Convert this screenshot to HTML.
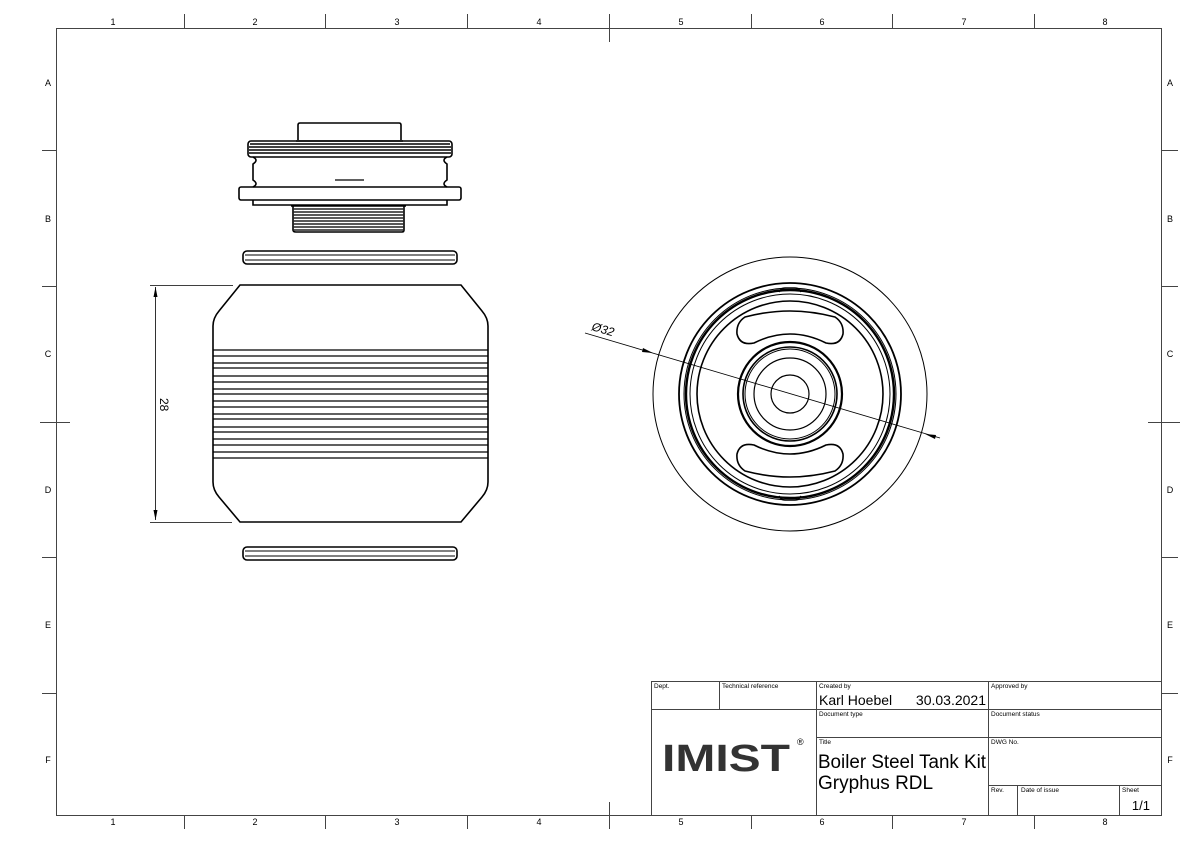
<!DOCTYPE html>
<html><head><meta charset="utf-8"><style>
html,body{margin:0;padding:0;background:#fff}
svg{display:block}
text{font-family:"Liberation Sans",sans-serif;fill:#000}
</style></head><body>
<svg width="1191" height="842" viewBox="0 0 1191 842" xmlns="http://www.w3.org/2000/svg">
<rect width="1191" height="842" fill="#fff"/>
<g stroke="#444" stroke-width="1" fill="none">
<rect x="56.5" y="28.5" width="1105" height="787"/>
<path d="M184.5 14V28 M325.5 14V28 M467.5 14V28 M609.5 14V42 M751.5 14V28 M892.5 14V28 M1034.5 14V28"/>
<path d="M184.5 816V829 M325.5 816V829 M467.5 816V829 M609.5 802V829 M751.5 816V829 M892.5 816V829 M1034.5 816V829"/>
<path d="M42 150.5H56 M42 286.5H56 M40 422.5H70 M42 557.5H56 M42 693.5H56"/>
<path d="M1162 150.5H1178 M1162 286.5H1178 M1148 422.5H1180 M1162 557.5H1178 M1162 693.5H1178"/>
</g>
<g font-size="9" text-anchor="middle">
<text x="113" y="25">1</text><text x="255" y="25">2</text><text x="397" y="25">3</text><text x="539" y="25">4</text><text x="681" y="25">5</text><text x="822" y="25">6</text><text x="964" y="25">7</text><text x="1105" y="25">8</text>
<text x="113" y="825">1</text><text x="255" y="825">2</text><text x="397" y="825">3</text><text x="539" y="825">4</text><text x="681" y="825">5</text><text x="822" y="825">6</text><text x="964" y="825">7</text><text x="1105" y="825">8</text>
<text x="48" y="86">A</text><text x="48" y="222">B</text><text x="48" y="357">C</text><text x="48" y="493">D</text><text x="48" y="628">E</text><text x="48" y="763">F</text>
<text x="1170" y="86">A</text><text x="1170" y="222">B</text><text x="1170" y="357">C</text><text x="1170" y="493">D</text><text x="1170" y="628">E</text><text x="1170" y="763">F</text>
</g>

<!-- top component -->
<g stroke="#000" stroke-width="1.6" fill="none">
<path d="M298 140V125Q298 123 300 123H399Q401 123 401 125V140"/>
<path d="M296 141H403"/>
<rect x="248" y="141" width="204" height="16" rx="3"/>
<path d="M250 144H450 M249 147H451 M249 150H451 M249 153H451" stroke-width="1.4"/>
<path d="M253 157Q259 160 253 164V180Q259 184 253 187 M447 157Q441 160 447 164V180Q441 184 447 187"/>
<path d="M335 180H364" stroke-width="1.2"/>
<rect x="239" y="187" width="222" height="13" rx="2"/>
<path d="M253 200V205H447V200"/>
<path d="M291 206H406 M293 206V230Q293 232 296 232H402Q404 232 404 230V206"/>
</g>
<g stroke="#222" stroke-width="1.6">
<path d="M293 209H404 M293 212H404 M293 215H404 M293 218H404 M293 221H404 M293 224H404 M293 227H404 M293 230H404"/>
</g>
<g stroke="#000" stroke-width="1.6" fill="none">
<rect x="243" y="251" width="214" height="13" rx="4"/>
<path d="M245 255H455 M245 260H455" stroke-width="1"/>
<rect x="243" y="547" width="214" height="13" rx="4"/>
<path d="M245 551H455 M245 556H455" stroke-width="1"/>
<path d="M240 285H461L482 311Q488 318 488 326V482Q488 490 482 497L461 522H240L219 497Q213 490 213 482V326Q213 318 219 311Z"/>
</g>
<g stroke="#000" stroke-width="1.2">
<path d="M213 350H488 M213 356H488 M213 363H488 M213 368H488 M213 376H488 M213 382H488 M213 389H488 M213 394H488 M213 401H488 M213 407H488 M213 414H488 M213 419H488 M213 427H488 M213 432H488 M213 439H488 M213 445H488 M213 452H488 M213 458H488"/>
</g>
<!-- dimension 28 -->
<g stroke="#000" stroke-width="0.8" fill="none">
<path d="M150 285.5H233 M150 522.5H232 M155.5 287V520"/>
</g>
<path d="M155.5 287L153.5 297H157.5Z M155.5 520L153.5 510H157.5Z" fill="#000"/>
<text x="0" y="0" font-size="12" transform="translate(160 398) rotate(90)">28</text>

<!-- right view -->
<g stroke="#000" fill="none">
<circle cx="790" cy="394" r="137" stroke-width="1"/>
<circle cx="790" cy="394" r="111" stroke-width="1.8"/>
<circle cx="790" cy="394" r="106" stroke-width="1"/>
<circle cx="790" cy="394" r="104" stroke-width="2.4"/>
<circle cx="790" cy="394" r="100" stroke-width="1"/>
<circle cx="790" cy="394" r="93" stroke-width="1.6"/>
<circle cx="790" cy="394" r="52" stroke-width="2.2"/>
<circle cx="790" cy="394" r="47" stroke-width="1.6"/>
<circle cx="790" cy="394" r="45" stroke-width="1"/>
<circle cx="790" cy="394" r="36" stroke-width="1.2"/>
<circle cx="790" cy="394" r="19" stroke-width="1.2"/>
<path d="M745 317Q736 323 737 334Q740 346 754 343Q772 334 790 334Q808 334 826 343Q840 346 843 334Q844 323 835 317Q812 311 790 311Q768 311 745 317Z" stroke-width="1.6"/>
<path d="M745 471Q736 465 737 454Q740 442 754 445Q772 454 790 454Q808 454 826 445Q840 442 843 454Q844 465 835 471Q812 477 790 477Q768 477 745 471Z" stroke-width="1.6"/>
<path d="M779 292Q781 288 785 288H795Q799 288 801 292" stroke-width="1.4"/>
<path d="M779 496Q781 500 785 500H795Q799 500 801 496" stroke-width="1.4"/>
<path d="M585 333L940 438" stroke-width="0.8"/>
</g>
<path d="M653 353L643 348L642 352Z M925 434L935 439L936 435Z" fill="#000"/>
<text x="0" y="0" font-size="12" font-style="italic" transform="translate(591 330) rotate(16.5)">Ø32</text>

<!-- title block -->
<g stroke="#444" stroke-width="1" fill="none">
<rect x="651.5" y="681.5" width="510" height="134"/>
<path d="M651 709.5H1162 M719.5 681V709 M816.5 681V815 M988.5 681V815 M816 737.5H1162 M988 785.5H1162 M1017.5 785V815 M1119.5 785V815"/>
</g>
<g font-size="6.5">
<text x="654" y="688">Dept.</text><text x="722" y="688">Technical reference</text>
<text x="819" y="688">Created by</text><text x="991" y="688">Approved by</text>
<text x="819" y="716">Document type</text><text x="991" y="716">Document status</text>
<text x="819" y="744">Title</text><text x="991" y="744">DWG No.</text>
<text x="991" y="792">Rev.</text><text x="1021" y="792">Date of issue</text><text x="1122" y="792">Sheet</text>
</g>
<text x="819" y="705" font-size="14">Karl Hoebel</text>
<text x="986" y="705" font-size="14" text-anchor="end">30.03.2021</text>
<text x="818" y="768" font-size="19" textLength="168" lengthAdjust="spacingAndGlyphs">Boiler Steel Tank Kit</text>
<text x="818" y="789" font-size="19">Gryphus RDL</text>
<text x="1150" y="810" font-size="13" text-anchor="end">1/1</text>
<text x="662" y="771" font-size="38" font-weight="bold" style="fill:#333" textLength="128" lengthAdjust="spacingAndGlyphs">IMIST</text>
<text x="797" y="745" font-size="9">®</text>
</svg>
</body></html>
